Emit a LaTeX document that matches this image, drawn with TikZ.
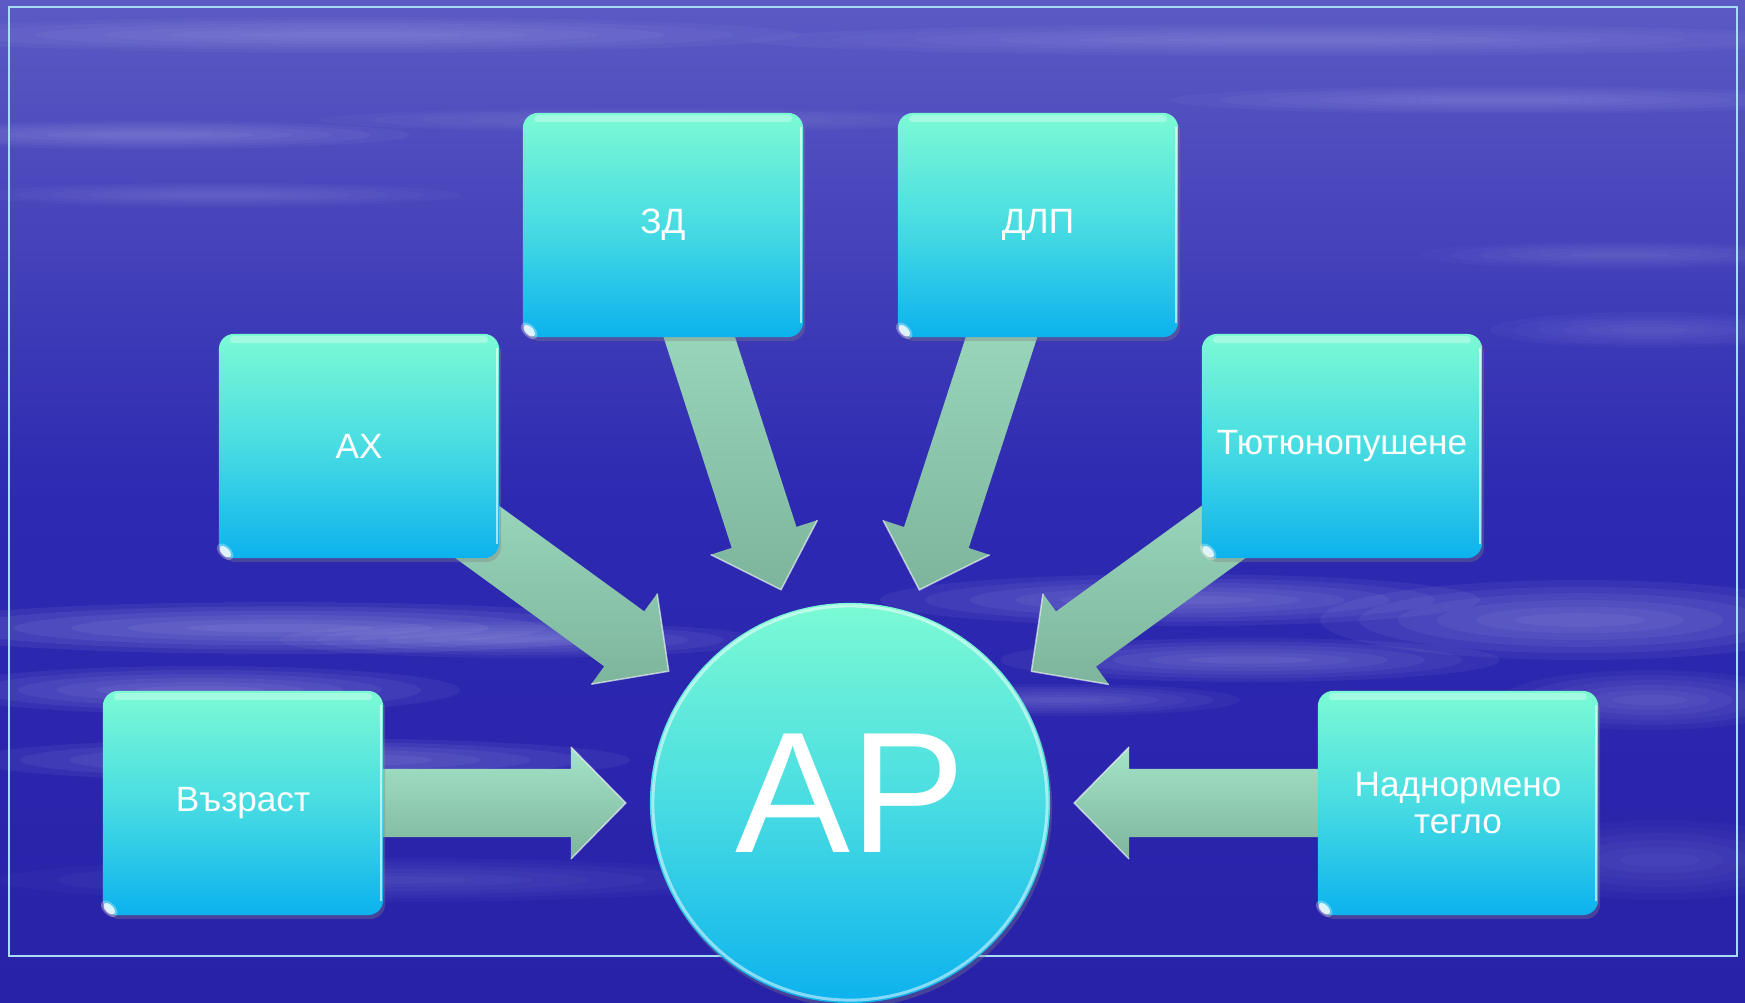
\documentclass[tikz,border=0pt]{standalone}
\usepackage{fontspec}
\setmainfont{Liberation Sans}
\usepackage{tikz}
\usetikzlibrary{calc,shadows}

\definecolor{bgtop}{HTML}{5C5AC4}
\definecolor{bgmid}{HTML}{2D29B1}
\definecolor{bgbot}{HTML}{2822A8}
\definecolor{streak}{HTML}{BCBCF0}
\definecolor{frameblue}{HTML}{A8DCF4}
\definecolor{boxtop}{HTML}{7CFAD4}
\definecolor{boxmid}{HTML}{48DCE2}
\definecolor{boxbot}{HTML}{0CB2EE}
\definecolor{arrtop}{HTML}{A4E4C8}
\definecolor{arrbot}{HTML}{7DB59C}

\pgfdeclarelayer{background}
\pgfdeclarelayer{arrows}
\pgfsetlayers{background,arrows,main}

% мека светла ивица във фона: център, радиуси, плътност
\newcommand{\streak}[5]{%
  \fill[streak, opacity=#5] (#1,#2) ellipse ({#3} and {#4});
  \fill[streak, opacity=#5] (#1,#2) ellipse ({0.85*#3} and {0.83*#4});
  \fill[streak, opacity=#5] (#1,#2) ellipse ({0.7*#3} and {0.67*#4});
  \fill[streak, opacity=#5] (#1,#2) ellipse ({0.55*#3} and {0.5*#4});
  \fill[streak, opacity=#5] (#1,#2) ellipse ({0.4*#3} and {0.33*#4});
  \fill[streak, opacity=#5] (#1,#2) ellipse ({0.25*#3} and {0.17*#4});
}

% дебела стрелка от кутия #1 към кръга #2
\newcommand{\blockarrow}[2]{%
  \coordinate (#1tip) at ($(#2.center)!2.24cm!(#1.center)$);
  \coordinate (#1neck) at ($(#2.center)!2.79cm!(#1.center)$);
  \shade[fatarrow] ($(#1.center)!0.34cm!90:(#1tip)$)
    -- ($(#1neck)!0.34cm!90:(#1tip)$)
    -- ($(#1neck)!0.56cm!90:(#1tip)$)
    -- (#1tip)
    -- ($(#1neck)!0.56cm!-90:(#1tip)$)
    -- ($(#1neck)!0.34cm!-90:(#1tip)$)
    -- ($(#1.center)!0.34cm!-90:(#1tip)$) -- cycle;
  \draw[arrowedge] ($(#1neck)!0.56cm!90:(#1tip)$) -- (#1tip)
    -- ($(#1neck)!0.56cm!-90:(#1tip)$);
}

% отблясъци върху кутия
\newcommand{\gloss}[1]{%
  \fill[white, opacity=0.3, rounded corners=0.03cm]
    ([xshift=0.12cm, yshift=-0.03cm]#1.north west) rectangle ([xshift=-0.12cm, yshift=-0.1cm]#1.north east);
  \draw[white, opacity=0.6, line width=0.02cm]
    ([xshift=-0.03cm, yshift=-0.15cm]#1.north east) -- ([xshift=-0.03cm, yshift=0.15cm]#1.south east);
  \coordinate (#1spot) at ([xshift=0.07cm, yshift=0.07cm]#1.south west);
  \fill[white, opacity=0.3, rotate around={-45:(#1spot)}] (#1spot) ellipse (0.1cm and 0.06cm);
  \fill[white, opacity=0.8, rotate around={-45:(#1spot)}] (#1spot) ellipse (0.07cm and 0.04cm);
}

\begin{document}
\begin{tikzpicture}[x=0.01cm, y=-0.01cm,
    factor/.style={rectangle, rounded corners=0.15cm, minimum width=2.8cm, minimum height=2.24cm,
      top color=boxtop, bottom color=boxbot, middle color=boxmid, text=white, align=center,
      font=\fontsize{10}{10.6}\selectfont,
      drop shadow={shadow xshift=0.02cm, shadow yshift=-0.04cm, opacity=0.35}},
    centre/.style={circle, minimum size=4cm, inner sep=0pt,
      top color=boxtop, bottom color=boxbot, middle color=boxmid, text=white,
      font=\fontsize{49}{49}\selectfont, text depth=0.2cm,
      drop shadow={shadow xshift=0.02cm, shadow yshift=-0.04cm, opacity=0.35}},
    fatarrow/.style={top color=arrtop, bottom color=arrbot},
    arrowedge/.style={draw=white, opacity=0.6, line width=0.015cm},
    frameline/.style={draw=frameblue, line width=0.02cm}]

    \useasboundingbox (0,0) rectangle (1745,1003);

    % Фон
    \begin{pgfonlayer}{background}
        \shade[top color=bgtop, bottom color=bgbot, middle color=bgmid] (0,0) rectangle (1745,1003);
        \streak{350}{35}{450}{18}{0.06}
        \streak{1300}{40}{550}{16}{0.05}
        \streak{150}{135}{260}{14}{0.06}
        \streak{650}{120}{330}{12}{0.04}
        \streak{1500}{100}{330}{14}{0.05}
        \streak{220}{195}{240}{12}{0.04}
        \streak{1620}{255}{200}{14}{0.04}
        \streak{1650}{330}{160}{18}{0.04}
        \streak{280}{628}{380}{26}{0.09}
        \streak{200}{690}{260}{24}{0.08}
        \streak{300}{760}{330}{22}{0.08}
        \streak{520}{640}{240}{18}{0.07}
        \streak{1180}{600}{300}{26}{0.08}
        \streak{1250}{660}{250}{22}{0.07}
        \streak{1580}{620}{260}{40}{0.08}
        \streak{1060}{700}{180}{16}{0.06}
        \streak{1650}{700}{150}{30}{0.06}
        \streak{380}{880}{380}{22}{0.04}
        \streak{1660}{860}{160}{40}{0.04}
        \draw[frameline] (9,7) rectangle (1737,956);
    \end{pgfonlayer}

    % Рискови фактори
    \node[factor] (zd) at (663,225) {ЗД};
    \node[factor] (dlp) at (1038,225) {ДЛП};
    \node[factor] (ah) at (359,446) {АХ};
    \node[factor] (tyut) at (1342,446) {Тютюнопушене};
    \node[factor] (vazrast) at (243,803) {Възраст};
    \node[factor] (teglo) at (1458,803) {Наднормено\\тегло};
    \node[centre] (ap) at (850,803) {АР};

    \gloss{zd} \gloss{dlp} \gloss{ah} \gloss{tyut} \gloss{vazrast} \gloss{teglo}
    \draw[white, opacity=0.5, line width=0.03cm] (ap.center) circle (1.97cm);

    % Стрелки към АР
    \begin{pgfonlayer}{arrows}
        \blockarrow{zd}{ap}
        \blockarrow{dlp}{ap}
        \blockarrow{ah}{ap}
        \blockarrow{tyut}{ap}
        \blockarrow{vazrast}{ap}
        \blockarrow{teglo}{ap}
    \end{pgfonlayer}
\end{tikzpicture}
\end{document}
